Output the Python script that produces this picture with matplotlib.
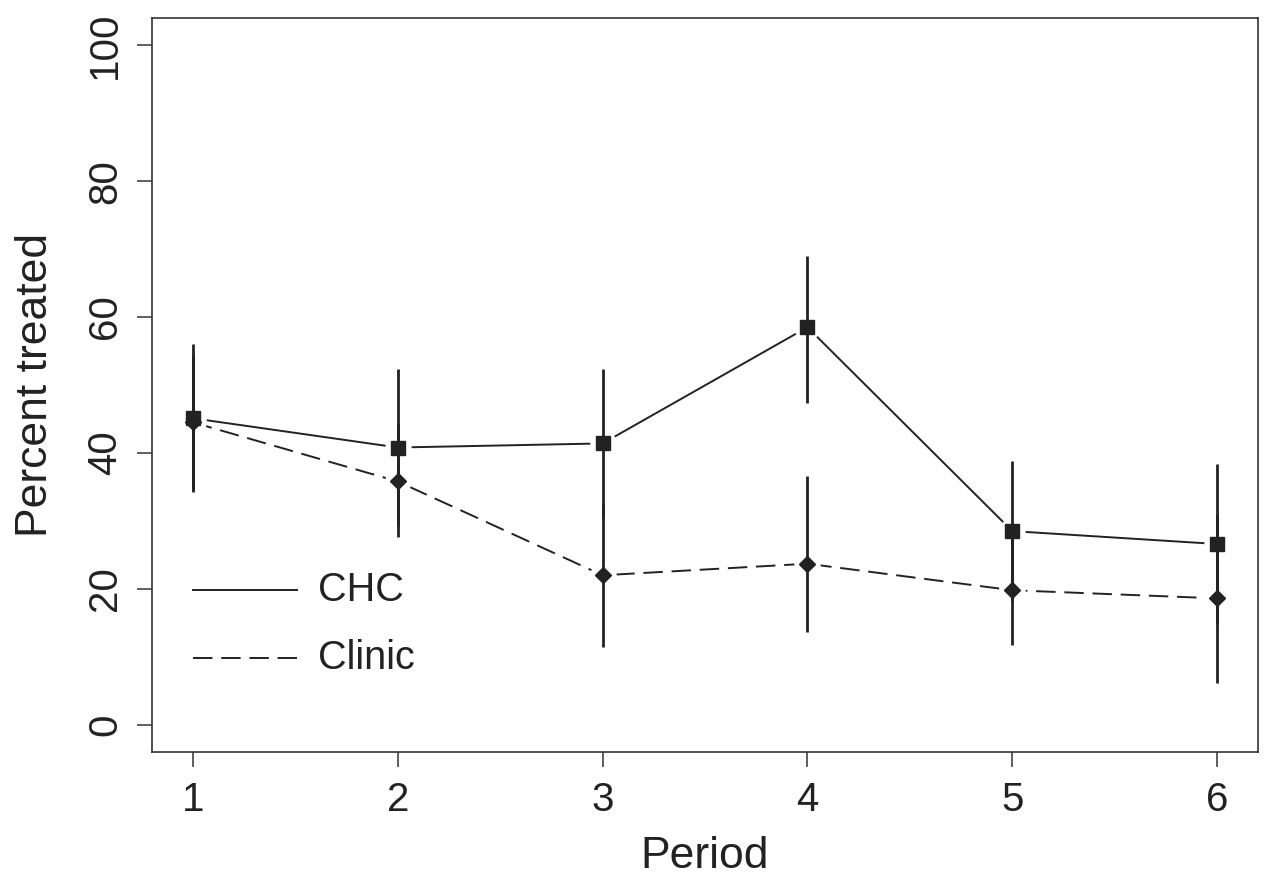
import matplotlib.pyplot as plt
import numpy as np

plt.rcParams['font.family'] = ['Liberation Sans', 'DejaVu Sans']

period = [1, 2, 3, 4, 5, 6]
chc = [45.1, 40.8, 41.4, 58.5, 28.5, 26.6]
chc_lo = [34.2, 29.2, 30.4, 47.4, 18.2, 14.8]
chc_hi = [56.0, 52.4, 52.4, 69.0, 38.8, 38.4]
clinic = [44.5, 35.8, 22.0, 23.7, 19.8, 18.6]
clinic_lo = [34.6, 27.6, 11.5, 13.6, 11.8, 6.2]
clinic_hi = [54.4, 44.2, 32.5, 36.6, 27.8, 31.0]

ink = '#222222'
fig = plt.figure(figsize=(12.7, 8.88), dpi=100)
ax = fig.add_axes([0.1197, 0.1532, 0.8709, 0.8265])

# lines first, then white halos for the R-style "b" gaps, then bars and points
ax.plot(period, chc, color=ink, lw=1.4, zorder=1)
ax.plot(period, clinic, color=ink, lw=1.4, linestyle=(0, (10, 4.5)), zorder=1)
ax.plot(period, chc, linestyle='none', marker='o', ms=18,
        markerfacecolor='white', markeredgecolor='white', zorder=2)
ax.plot(period, clinic, linestyle='none', marker='o', ms=18,
        markerfacecolor='white', markeredgecolor='white', zorder=2)

ax.vlines(period, chc_lo, chc_hi, color=ink, lw=2, zorder=3)
ax.vlines(period, clinic_lo, clinic_hi, color=ink, lw=2, zorder=3)
ax.plot(period, chc, linestyle='none', marker='s', ms=10.5, color=ink, zorder=4)
ax.plot(period, clinic, linestyle='none', marker='D', ms=8, color=ink, zorder=4)

ax.set_xlim(0.8, 6.2)
ax.set_ylim(-4, 104)
ax.set_xticks(period)
ax.set_yticks([0, 20, 40, 60, 80, 100])
ax.tick_params(axis='both', length=11, width=1.1, color='#333333', labelsize=29,
               labelcolor=ink)
ax.tick_params(axis='x', pad=10)
ax.tick_params(axis='y', pad=9)
for lab in ax.get_yticklabels():
    lab.set_rotation(90)
    lab.set_verticalalignment('center')
for s in ax.spines.values():
    s.set_color('#333333')
    s.set_linewidth(1.2)

ax.set_xlabel('Period', fontsize=32, color=ink, labelpad=12)
ax.set_ylabel('Percent treated', fontsize=32, color=ink, labelpad=22)

# legend
ax.plot([0.037, 0.131], [0.2207, 0.2207], color=ink, lw=1.4, transform=ax.transAxes)
ax.plot([0.037, 0.131], [0.128, 0.128], color=ink, lw=1.4,
        linestyle=(0, (10, 4.5)), transform=ax.transAxes)
ax.text(0.150, 0.2207, 'CHC', fontsize=28.5, color=ink, va='center',
        transform=ax.transAxes)
ax.text(0.150, 0.128, 'Clinic', fontsize=28.5, color=ink, va='center',
        transform=ax.transAxes)

fig.savefig('out.png', dpi=100, facecolor='white')
